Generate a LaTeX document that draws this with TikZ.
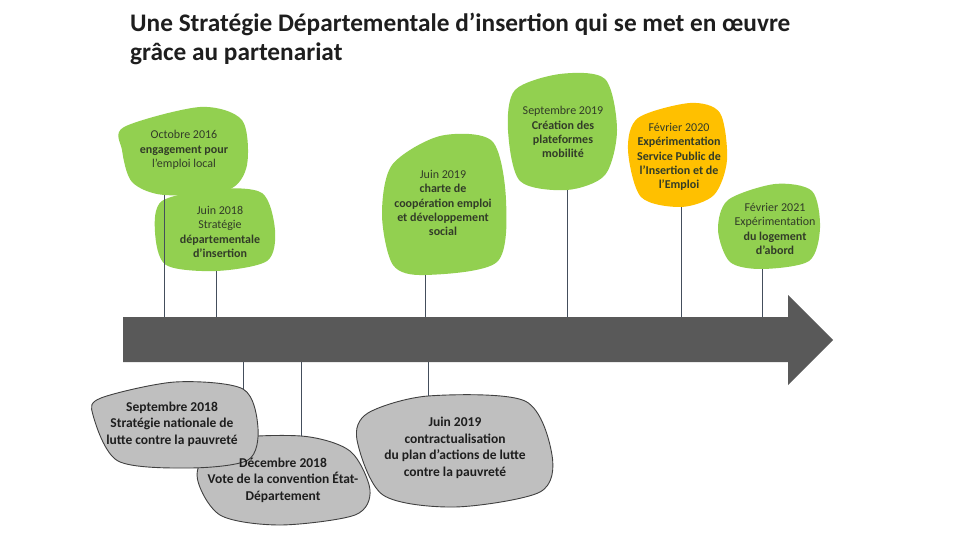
\documentclass[tikz,border=0pt]{standalone}
\usepackage{fontspec}
\setmainfont{Carlito}
\usetikzlibrary{calc}
\definecolor{leaf}{RGB}{146,208,80}
\definecolor{amber}{RGB}{255,192,0}
\definecolor{ash}{RGB}{191,191,191}
\definecolor{ashline}{RGB}{64,64,64}
\definecolor{slate}{RGB}{68,78,92}
\definecolor{band}{RGB}{89,89,89}
\definecolor{ink}{RGB}{30,30,30}
\definecolor{leafink}{RGB}{50,60,40}

\begin{document}
\begin{tikzpicture}[x=1pt,y=-1pt,
  every node/.style={inner sep=0pt,align=center,text=ink},
  upblob/.style={fill=leaf,draw=none},
  downblob/.style={fill=ash,draw=ashline,line width=0.9pt},
  stem/.style={draw=slate,line width=0.8pt},
  headline/.style={anchor=base west,font=\bfseries\fontsize{25.3}{30}\selectfont},
  uptext/.style={text=leafink,font=\fontsize{12}{14.2}\selectfont},
  downtext/.style={font=\bfseries\fontsize{13.5}{16.5}\selectfont}]
\useasboundingbox (0,0) rectangle (960,540);

% title
\node[headline] (title1) at (130,32)
  {Une Stratégie Départementale d’insertion qui se met en œuvre};
\node[headline] (title2) at (130,61) {grâce au partenariat};

% stem points on the blobs
\coordinate (oct16s) at (164,195);
\coordinate (jun18s) at (216,271);
\coordinate (jun19s) at (425,275);
\coordinate (sep19s) at (567,190);
\coordinate (feb20s) at (681,207);
\coordinate (feb21s) at (762,269);
\coordinate (sep18s) at (243,389);
\coordinate (dec18s) at (301,436);
\coordinate (jun19bs) at (428,396);
\coordinate (axis) at (480,340);

% blobs above the timeline
\fill[upblob] plot[smooth cycle] coordinates {(162,201) (215,189) (262,193) (275,230) (267,261) (jun18s) (166,265) (155,232)};
\fill[upblob] plot[smooth cycle] coordinates {(124,127) (200,107) (242,120) (247,165) (228,190) (oct16s) (132,182) (122,150)};
\fill[upblob] plot[smooth cycle] coordinates {(392,165) (440,136) (492,141) (506,200) (497,262) (jun19s) (393,265) (382,215)};
\fill[upblob] plot[smooth cycle] coordinates {(515,90) (560,74) (605,79) (617,130) (605,175) (sep19s) (520,181) (508,130)};
\fill[amber] plot[smooth cycle] coordinates {(638,118) (690,103) (720,113) (727,160) (714,195) (feb20s) (641,197) (628,150)};
\fill[upblob] plot[smooth cycle] coordinates {(728,200) (775,184) (812,191) (820,228) (809,261) (feb21s) (730,262) (718,230)};

% blobs below the timeline
\draw[downblob] plot[smooth cycle] coordinates {(220,441) (dec18s) (350,451) (370,490) (355,515) (280,525) (220,515) (197,475)};
\draw[downblob] plot[smooth cycle] coordinates {(101,398) (175,382) (sep18s) (258,428) (248,460) (190,468) (118,461) (93,415)};
\draw[downblob] plot[smooth cycle] coordinates {(368,413) (jun19bs) (525,401) (552,455) (540,492) (455,507) (383,495) (357,440)};

% stems
\foreach \s in {oct16s,jun18s,jun19s,sep19s,feb20s,feb21s,sep18s,dec18s,jun19bs}
  \draw[stem] (\s) -- (\s |- axis);

% timeline arrow
\fill[band] (123,317) -- (788,317) -- (788,295) -- (833,340) -- (788,385)
  -- (788,362) -- (123,362) -- cycle;

% texts
\node[uptext] (oct16) at (184,150) {Octobre 2016\\\textbf{engagement pour}\\l’emploi local};
\node[uptext] (jun18) at (220,232) {Juin 2018\\Stratégie\\\textbf{départementale}\\\textbf{d’insertion}};
\node[uptext] (jun19) at (443,203) {Juin 2019\\\textbf{charte de}\\\textbf{coopération emploi}\\\textbf{et développement}\\\textbf{social}};
\node[uptext] (sep19) at (563,132) {Septembre 2019\\\textbf{Création des}\\\textbf{plateformes}\\\textbf{mobilité}};
\node[uptext] (feb20) at (679,157) {Février 2020\\\textbf{Expérimentation}\\\textbf{Service Public de}\\\textbf{l’Insertion et de}\\\textbf{l’Emploi}};
\node[uptext] (feb21) at (775,229) {Février 2021\\Expérimentation\\\textbf{du logement}\\\textbf{d’abord}};
\node[downtext] (sep18) at (172,424) {Septembre 2018\\Stratégie nationale de\\lutte contre la pauvreté};
\node[downtext] (dec18) at (283,480) {Décembre 2018\\Vote de la convention État-\\Département};
\node[downtext] (jun19b) at (455,448) {Juin 2019\\contractualisation\\du plan d’actions de lutte\\contre la pauvreté};
\end{tikzpicture}
\end{document}
